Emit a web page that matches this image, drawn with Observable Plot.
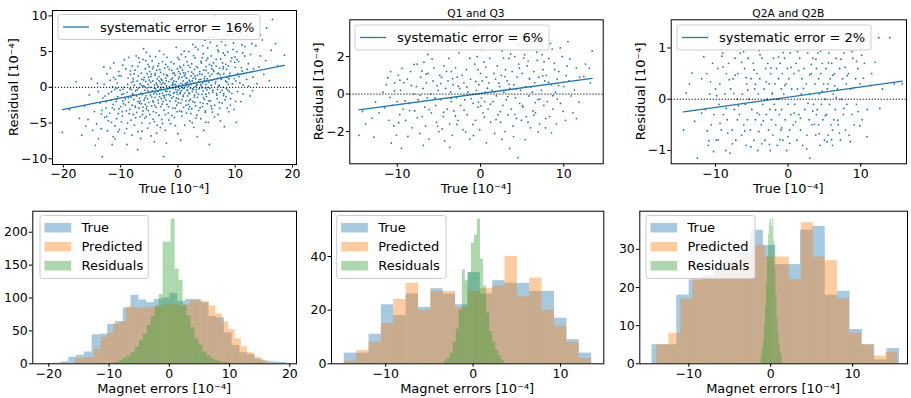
<!DOCTYPE html>
<html>
<head>
<meta charset="utf-8">
<script src="https://cdn.jsdelivr.net/npm/d3@7"></script>
<script src="https://cdn.jsdelivr.net/npm/@observablehq/plot@0.6"></script>
<style>
  html, body { margin: 0; padding: 0; background: #fff; }
  #fig { position: relative; width: 911px; height: 398px; overflow: hidden; font-family: "DejaVu Sans", sans-serif; }
  #fig svg { position: absolute; overflow: visible; }
</style>
</head>
<body>
<div id="fig"></div>
<script>
// ---------- Top row: true magnet error vs. residual, units of 1e-4 ----------
const allPoints = [
  [-20.2,-6.3],[-17.8,0.8],[-16.8,-6.7],[-16.3,-2.6],
  [-15.7,-4.5],[-15.1,1.2],[-14.6,-3.4],[-14.2,-5.1],[-13.9,-0.6],[-13.6,-2.2],[-13.2,-9.7],
  [-13.4,-5.8],[-13.1,-1.5],[-12.9,0.4],[-12.8,-4.2],[-12.6,-2.9],[-12.4,1.9],[-12.3,-6.1],[-12.1,-0.9],[-11.9,-3.6],[-11.8,2.7],
  [-11.7,-1.8],[-11.6,-4.9],[-11.5,-8.0],[-11.4,0.1],[-11.3,-2.4],[-11.2,3.4],[-11.1,-3.1],[-11.0,-5.4],[-11.0,-0.3],[-11.3,-6.9],
  [-10.9,1.1],[-10.8,-2.0],[-10.7,-4.4],[-10.6,0.6],[-10.5,-1.3],[-10.4,-3.7],[-10.3,2.2],[-10.2,-5.9],[-10.1,-0.4],[-10.0,-2.7],
  [-9.9,1.6],[-9.8,-1.0],[-9.7,-4.0],[-9.6,3.1],[-9.5,-2.3],[-9.4,0.0],[-9.3,-6.4],[-9.2,-1.6],[-9.1,2.6],[-9.0,-3.3],
  [-8.9,-0.7],[-8.8,-5.0],[-8.7,1.3],[-8.6,-2.1],[-8.6,4.2],[-8.9,-8.0],[-9.6,-1.9],[-10.3,-3.0],
  [-8.4,-0.2],[-8.4,-3.1],[-8.3,1.8],[-8.2,-1.4],[-8.2,-4.6],[-8.1,0.7],[-8.0,-2.5],[-8.0,3.0],[-7.9,-0.9],[-7.8,-3.8],
  [-7.8,1.2],[-7.7,-1.7],[-7.6,-5.3],[-7.6,0.3],[-7.5,2.4],[-7.4,-2.8],[-7.4,-0.5],[-7.3,4.4],[-7.2,-1.2],[-7.2,-3.5],
  [-7.1,0.9],[-7.0,-2.0],[-7.0,-6.2],[-6.9,1.6],[-6.9,-0.1],[-6.8,-2.9],[-6.7,3.5],[-6.7,-1.5],[-6.6,-4.1],[-6.6,0.5],
  [-6.5,-0.8],[-6.4,2.0],[-6.4,-2.3],[-6.3,-5.0],[-6.3,1.1],[-6.2,-1.0],[-6.1,3.9],[-6.1,-3.3],[-6.0,0.2],[-6.0,5.4],
  [-5.9,-1.8],[-5.9,1.4],[-5.8,-0.4],[-5.8,-4.3],[-5.7,2.6],[-5.7,-2.4],[-5.6,0.8],[-5.6,-1.2],[-5.5,4.9],[-5.5,-3.0],
  [-5.4,-0.1],[-5.4,1.9],[-5.3,-5.7],[-5.3,-1.6],[-5.2,0.4],[-5.2,3.2],[-5.1,-2.1],[-5.0,-0.7],[-5.0,1.0],[-4.9,-3.8],
  [-4.9,2.2],[-4.8,-1.1],[-4.8,0.0],[-4.7,-6.8],[-4.7,1.5],[-4.6,-2.6],[-4.5,3.7],[-4.5,-0.5],[-4.4,-1.9],[-4.4,0.9],
  [-4.3,-3.4],[-4.3,2.9],[-4.2,-0.9],[-4.1,0.3],[-4.1,-4.8],[-4.0,1.7],[-4.0,-1.4],[-3.9,-0.2],[-3.9,4.3],[-3.8,-2.8],
  [-3.8,0.6],[-3.7,-1.0],[-3.7,2.4],[-3.6,-5.3],[-3.6,1.2],
  [-3.5,-0.6],[-3.5,3.0],[-3.4,-2.2],[-3.4,0.1],[-3.3,1.5],[-3.3,-3.9],[-3.2,-1.3],[-3.2,5.1],[-3.1,0.7],[-3.1,-0.3],
  [-3.0,-2.7],[-3.0,2.1],[-2.9,-1.6],[-2.9,0.4],[-2.8,-4.5],[-2.8,1.0],[-2.7,-0.8],[-2.7,3.6],[-2.6,-2.0],[-2.6,0.0],
  [-2.5,-9.7],[-2.5,1.8],[-2.4,-1.2],[-2.4,-3.2],[-2.3,0.5],[-2.3,2.7],[-2.2,-0.5],[-2.2,-6.0],[-2.1,1.3],[-2.1,-1.8],
  [-2.0,-7.8],[-2.0,0.2],[-1.9,4.2],[-1.9,-2.4],[-1.8,-0.2],[-1.8,1.6],[-1.7,-3.6],[-1.6,0.8],[-1.6,-1.0],[-1.5,2.5],
  [-1.4,-0.6],[-1.3,-5.1],[-1.2,1.1],[-1.1,-1.5],[-1.0,0.3],
  [-0.9,-2.9],[-0.9,2.0],[-0.8,-0.1],[-0.8,-1.3],[-0.7,0.9],[-0.7,3.3],[-0.6,-0.7],[-0.6,-4.2],[-0.5,0.4],[-0.5,1.7],
  [-0.4,-1.9],[-0.4,-0.3],[-0.3,5.6],[-0.3,0.8],[-0.2,-2.5],[-0.2,0.1],[-0.1,-1.0],[-0.1,2.6],[0.0,-0.4],[0.0,-6.5],
  [0.1,1.2],[0.1,-1.6],[0.2,0.3],[0.2,3.9],[0.3,-3.3],[0.3,-0.2],[0.4,1.9],[0.4,-0.9],[0.5,0.6],[0.5,-2.2],
  [0.6,4.6],[0.6,-0.5],[0.7,1.4],[0.7,-4.0],[0.8,0.0],[0.8,2.4],[0.9,-1.3],[0.9,0.9],[1.0,-2.8],[1.0,3.1],
  [1.1,-0.1],[1.1,1.6],[1.2,-5.3],[1.2,-0.8],[1.3,0.5],[1.3,2.0],[1.4,-1.9],[1.4,0.2],
  [1.5,-3.6],[1.5,1.3],[1.6,-0.4],[1.6,3.6],[1.7,0.7],[1.7,-1.2],[1.8,2.2],[1.8,-2.4],[1.9,0.2],[1.9,5.0],
  [2.0,-0.9],[2.0,1.0],[2.1,-4.7],[2.1,2.8],[2.2,-0.1],[2.2,-1.7],[2.3,1.6],[2.3,0.4],[2.4,-3.0],[2.4,3.3],
  [2.5,-0.6],[2.5,0.9],[2.6,6.0],[2.6,-2.0],[2.7,1.9],[2.7,-0.3],[2.8,0.6],[2.8,-5.6],[2.9,2.5],[2.9,-1.1],
  [3.0,0.1],[3.0,4.1],[3.1,-2.6],[3.1,1.2],[3.2,-0.7],[3.2,2.9],[3.3,0.4],[3.3,-3.9],[3.4,1.7],[3.4,-1.4],
  [3.5,5.3],[3.6,0.8],[3.7,-0.2],[3.8,2.2],[3.9,-2.1],
  [4.0,1.1],[4.0,-4.4],[4.1,0.2],[4.1,3.4],[4.2,-1.0],[4.2,1.8],[4.3,-2.7],[4.3,0.6],[4.4,4.7],[4.4,-0.5],
  [4.5,2.4],[4.5,-6.0],[4.6,0.9],[4.6,-1.7],[4.7,1.5],[4.7,6.6],[4.8,-0.1],[4.8,-3.3],[4.9,2.9],[4.9,0.4],
  [5.0,-1.3],[5.0,3.8],[5.1,1.2],[5.1,-2.3],[5.2,0.0],[5.2,5.5],[5.3,-4.9],[5.3,2.0],[5.4,0.7],[5.4,-0.8],
  [5.5,-8.0],[5.5,3.2],[5.6,1.6],[5.7,-1.9],[5.8,0.3],[5.8,4.4],[5.9,-3.0],[5.9,2.6],[6.0,1.0],[6.1,-0.4],
  [6.2,7.0],[6.3,2.2],[6.4,-2.5],[6.5,10.0],
  [6.6,0.8],[6.7,3.9],[6.8,-1.1],[6.9,1.9],[7.0,-3.8],[7.1,5.0],[7.2,0.3],[7.3,2.7],[7.4,-0.7],[7.5,1.4],
  [7.6,6.4],[7.7,-2.2],[7.8,3.4],[7.9,0.0],[8.0,1.9],[8.1,-5.5],[8.2,4.5],[8.3,0.9],[8.4,-1.3],[8.5,2.5],
  [8.6,7.3],[8.7,-0.4],[8.8,3.0],[8.9,1.2],[6.8,5.8],[7.4,-4.7],[8.0,-0.9],[8.6,-2.9],[7.1,2.0],[7.9,4.8],
  [6.9,-0.3],[8.3,5.9],[8.8,0.4],
  [9.1,2.0],[9.2,-1.6],[9.4,4.1],[9.5,0.5],[9.7,6.2],[9.8,-3.1],[10.0,2.8],[10.1,0.9],[10.3,5.0],[10.4,-0.6],
  [10.6,3.6],[10.7,1.5],[10.9,7.6],[11.0,-2.0],[11.2,2.3],[11.3,4.8],[9.3,8.2],[10.2,-4.9],[11.4,0.3],[9.9,3.5],
  [11.7,5.7],[12.0,1.1],[12.3,3.3],[12.6,-1.2],[12.9,6.1],[13.2,2.6],[13.5,8.6],[13.8,0.5],
  [14.4,4.4],[15.0,1.8],[15.5,8.3],[16.3,5.2],
  [16.5,9.5],[17.4,3.0],[18.6,4.5],
  [-18.93,-3.12],[-17.21,-4.35],[-15.48,-1.07],[-14.87,-6.02],[-14.06,0.58],[-13.37,-3.71],[-12.71,-1.22],[-12.17,-4.66],
  [-11.83,0.96],[-11.46,-2.87],[-10.97,-7.21],[-10.63,-0.12],[-10.28,1.63],[-9.86,-4.83],[-9.51,-0.93],[-9.17,-2.48],
  [-8.79,0.43],[-8.53,-3.69],[-8.27,2.31],[-8.02,-6.71],[-7.86,-1.02],[-7.63,1.88],[-7.38,-4.27],[-7.11,-0.36],
  [-6.97,2.93],[-6.73,-2.22],[-6.52,-7.16],[-6.34,0.27],[-6.18,-3.82],[-5.96,1.03],[-5.77,-1.51],[-5.61,3.73],
  [-5.43,-2.69],[-5.26,-0.47],[-5.12,1.41],[-4.93,-5.04],[-4.76,0.72],[-4.58,-1.33],[-4.42,2.61],[-4.27,-2.04],
  [-4.13,-0.12],[-3.97,1.94],[-3.82,-3.57],[-3.66,0.37],[-3.49,-1.78],[-3.36,3.32],[-3.21,-0.92],[-3.07,-5.61],
  [-2.93,1.17],[-2.78,-2.36],[-2.62,0.64],[-2.46,4.62],[-2.33,-1.47],[-2.18,-3.81],[-2.04,0.93],[-1.91,-0.58],
  [-1.77,2.87],[-1.63,-2.73],[-1.48,0.08],[-1.32,-1.14],[-1.19,3.52],[-1.04,-3.93],[-0.92,0.61],[-0.77,-0.86],
  [-0.63,1.98],[-0.49,-2.93],[-0.34,0.19],[-0.21,-0.68],[-0.06,4.17],[0.08,-2.18],[0.23,1.47],[0.37,-0.73],
  [0.52,2.73],[0.66,-3.42],[0.81,0.42],[0.94,-1.08],[1.09,5.06],[1.24,1.71],[1.38,-2.52],[1.53,0.57],
  [1.67,-0.41],[1.82,3.07],[1.97,-1.88],[2.12,0.79],[2.26,-3.67],[2.41,2.13],[2.55,-0.22],[2.71,4.43],
  [2.86,-1.37],[3.01,1.56],[3.14,-4.28],[3.29,0.28],[3.44,2.77],[3.58,-0.97],[3.73,1.08],[3.87,-2.86],
  [4.02,3.63],[4.17,-0.07],[4.31,5.81],[4.46,-1.44],[4.61,1.21],[4.76,-3.51],[4.91,2.37],[5.06,-0.33],
  [5.21,4.08],[5.36,-1.91],[5.51,0.93],[5.66,6.27],[5.79,-2.64],[5.94,1.86],[6.09,-0.68],[6.23,3.41],
  [6.38,-4.14],[6.53,0.54],[6.68,2.98],[6.83,-1.57],[6.99,5.22],[7.14,0.14],[7.28,-2.92],[7.44,3.96],
  [7.59,1.13],[7.73,-0.42],[7.89,2.61],[8.04,6.83],[8.21,-1.73],[8.37,3.22],[8.52,0.72],[8.69,4.94],
  [8.86,-3.43],[9.03,1.66],[9.22,3.67],[9.41,-0.84],[9.62,5.31],[9.83,1.22],[10.07,-1.96],[10.31,3.87],
  [10.56,6.96],[10.82,0.61],[11.08,2.76],[11.37,-0.94],[11.66,4.38],[11.98,7.21],[12.34,0.17],[12.71,4.61],
  [13.12,1.42],[13.61,5.83],[14.13,2.86],[14.72,6.63],[15.31,3.74],[15.96,0.94],[17.02,6.12],
  [-16.12,-5.43],[-13.88,-7.18],[-12.44,-4.07],[-11.22,1.38],[-10.46,-6.22],[-9.71,-3.41],[-8.94,-5.77],[-8.12,-0.31],
  [-7.49,-2.63],[-6.84,4.12],[-6.26,-6.14],[-5.52,-4.08],[-4.87,4.36],[-4.33,-4.47],[-3.73,-6.42],[-3.17,2.47],
  [-2.69,-5.06],[-2.14,3.21],[-1.58,-4.59],[-0.97,1.27],[-0.44,-5.37],[0.14,2.21],[0.71,-1.71],[1.33,4.27],
  [1.88,-3.04],[2.49,-4.93],[3.07,5.62],[3.61,-3.26],[4.24,4.14],[4.83,-4.86],[5.43,6.94],[6.02,-3.47],
  [6.61,7.62],[7.21,-2.11],[7.83,8.12],[8.44,-0.17],[9.14,-2.48],[9.76,7.43],[10.41,1.92],[11.17,5.96],
  [12.08,2.54],[13.02,-0.46],[14.38,7.33],[-7.03,-8.73],[-4.11,-7.63],[0.47,-7.41],[3.36,-6.89],[-9.34,3.87],
  [-12.93,2.86],[-14.42,-8.12],
  [-6.61,-1.93],[-5.87,0.11],[-5.18,-3.27],[-4.64,1.84],[-3.94,-0.68],[-3.29,0.91],[-2.57,-1.12],[-1.96,1.74],
  [-1.41,-1.93],[-0.86,0.36],[-0.27,-1.52],[0.31,2.94],[0.88,-0.17],[1.46,1.32],[2.03,-2.71],[2.63,1.26],
  [3.22,-0.34],[3.81,1.87],[4.39,-2.24],[4.97,0.83],[5.58,-0.14],[6.17,2.41],[6.76,-0.88],[7.36,1.78],
  [7.97,-1.16],[8.58,1.41],[-7.81,0.84],[-8.66,-1.47],[-9.58,-0.28],[-10.74,-1.69],[-11.61,-0.62],[-12.52,-2.03],
  [-13.28,-3.22],[-6.07,-2.77],[-5.03,2.88],[-4.04,-2.52],[-2.97,-0.06],[-2.01,-1.03],[-1.06,2.38],[-0.13,-3.41],
  [0.97,2.03],[1.91,-0.73],[2.93,-2.11],[3.96,0.37],[4.88,-0.96],[5.87,3.02],[6.86,1.24],[7.92,2.89],
  [8.97,-0.61],[9.97,4.24]
];

const q13Points = [
  [-14.6,-2.2],[-13.8,-1.6],[-12.8,-2.3],[-12.2,-1.0],
  [-11.7,0.1],[-11.3,0.5],[-11.0,-1.4],[-10.8,1.2],[-10.6,-0.6],
  [-10.4,-1.7],[-10.3,0.6],[-10.1,-2.2],[-10.0,-0.4],[-9.9,1.0],[-9.7,-1.1],[-9.6,0.2],[-9.5,-2.9],[-9.3,-0.8],[-9.2,0.6],
  [-9.0,-1.4],[-8.8,0.8],[-8.6,-0.5],[-8.4,1.2],[-8.2,-1.8],[-8.0,0.0],[-7.9,-0.9],[-7.7,0.4],
  [-7.6,1.6],[-7.5,-0.3],[-7.3,-2.1],[-7.2,0.9],[-7.0,-1.2],[-6.9,0.3],[-6.8,1.7],[-6.7,-0.7],[-6.6,-1.7],[-6.5,0.6],[-6.4,-0.2],[-6.3,1.1],
  [-6.2,-2.4],[-6.0,0.0],[-5.9,-1.0],[-5.7,0.7],[-5.6,1.4],[-5.4,-0.6],[-5.3,-1.5],[-5.1,0.2],[-5.0,-2.0],[-4.9,1.0],
  [-4.8,-0.3],[-4.7,0.9],[-4.5,-1.2],[-4.4,1.5],[-4.3,-2.5],[-4.2,0.3],[-4.0,-0.8],[-3.9,0.7],[-3.8,1.9],[-3.7,-1.6],[-3.6,0.1],[-3.5,1.2],[-3.5,-0.4],
  [-3.4,-2.2],[-3.3,0.5],[-3.2,-0.9],[-3.0,1.4],[-2.9,-0.2],[-2.8,0.9],[-2.7,-1.4],[-2.6,2.2],[-2.5,0.3],[-2.4,-0.6],[-2.2,1.0],[-2.1,-1.9],
  [-2.0,0.6],[-1.9,-0.3],[-1.7,1.3],[-1.6,-1.1],[-1.5,0.1],[-1.3,-2.4],[-1.2,0.8],[-1.0,3.6],[-0.9,-0.5],[-0.7,1.6],
  [-0.6,-1.4],[-0.5,0.2],[-0.4,2.0],[-0.3,-0.7],[-0.2,0.5],[-0.1,-1.9],[0.0,1.1],[0.1,-0.2],[0.2,0.7],[0.3,-1.0],[0.4,1.7],[0.5,-0.4],[0.6,0.1],[0.7,-2.6],[0.7,0.9],[-0.3,1.3],
  [0.9,-0.8],[1.0,0.6],[1.1,1.9],[1.2,-1.5],[1.4,0.2],[1.5,-0.4],[1.6,1.1],[1.7,-2.1],[1.8,0.8],[1.9,-0.1],[2.0,1.5],[2.1,-1.1],
  [2.3,0.4],[2.4,-1.5],[2.5,1.0],[2.6,2.3],[2.7,-0.6],[2.8,0.1],[2.9,-2.0],[3.0,1.3],[3.1,-0.3],[3.2,0.7],[3.3,-1.1],[3.4,1.9],[3.5,-2.9],[3.5,0.3],
  [3.7,-0.8],[3.8,1.2],[3.9,-1.7],[4.0,0.5],[4.1,2.0],[4.2,-0.2],[4.3,-1.3],[4.4,0.9],[4.5,-3.4],[4.6,1.6],[4.7,-0.5],[4.8,0.2],[4.9,-1.4],[5.0,1.1],
  [5.1,-0.7],[5.3,2.1],[5.4,0.4],[5.5,-1.2],[5.6,1.5],[5.8,-0.1],[5.9,0.8],[6.0,-1.8],[6.1,2.4],[6.2,0.1],[6.3,-0.9],[6.4,1.2],[5.7,-1.5],
  [6.5,0.6],[6.6,-1.0],[6.8,1.8],[6.9,-0.3],[7.0,0.9],[7.1,-1.6],[7.2,2.7],[7.3,0.2],[7.5,1.3],[7.6,-0.6],[7.7,0.7],[7.8,-1.8],[7.4,2.1],
  [7.9,1.0],[8.0,-0.4],[8.2,1.9],[8.3,-1.2],[8.5,0.5],[8.6,2.4],[8.7,-0.8],[8.9,1.3],[9.0,0.1],[9.1,-1.6],[9.2,0.8],[8.4,2.7],
  [9.4,1.2],[9.6,-0.5],[9.8,2.0],[10.0,0.4],[10.2,-1.4],[10.4,1.5],[10.5,2.8],[10.6,0.7],
  [10.9,-0.1],[11.1,-1.0],[11.5,1.4],[11.9,0.9],
  [12.6,1.6],[13.4,2.3],[13.2,0.6],
  [-14.17,-0.93],[-13.03,-1.28],[-11.52,-0.73],[-11.14,0.87],[-10.72,-2.61],[-10.36,0.17],[-9.83,-1.53],[-9.42,1.37],
  [-9.07,-0.37],[-8.73,-2.26],[-8.31,0.46],[-7.97,1.58],[-7.61,-1.27],[-7.24,-0.07],[-6.87,-2.74],[-6.53,1.06],
  [-6.18,-0.83],[-5.82,1.87],[-5.47,-0.21],[-5.16,-1.72],[-4.79,0.56],[-4.42,-0.97],[-4.08,1.21],[-3.71,-2.84],
  [-3.36,0.82],[-3.02,-1.17],[-2.67,0.42],[-2.33,2.62],[-1.98,-0.86],[-1.64,0.38],[-1.29,1.91],[-0.93,-1.62],
  [-0.58,0.67],[-0.24,-0.44],[0.12,2.38],[0.46,-1.23],[0.82,0.31],[1.17,-0.54],[1.52,2.71],[1.86,-1.36],
  [2.21,0.58],[2.57,-2.42],[2.92,0.93],[3.26,-0.14],[3.62,2.14],[3.96,-2.27],[4.31,0.27],[4.67,1.38],
  [5.02,-0.62],[5.37,-2.43],[5.71,1.76],[6.07,0.38],[6.41,-1.12],[6.77,2.23],[7.12,-0.27],[7.47,0.97],
  [7.81,-1.31],[8.16,0.63],[8.52,-2.07],[8.86,1.64],[9.21,-0.27],[9.57,2.46],[9.92,-0.92],[10.28,0.98],
  [10.73,1.87],[11.27,0.21],[11.84,-0.43],[12.41,0.93],[13.07,1.37],
  [-12.61,-0.42],[-10.88,-0.18],[-8.52,-0.88],[-6.35,2.11],[-4.61,-1.86],[-2.84,-1.62],[-1.13,-0.24],[0.63,1.44],
  [2.38,-0.93],[4.13,-1.08],[5.86,0.84],[7.63,1.72],[9.37,0.46],[-7.04,1.23],[-5.23,0.44],[-3.53,-0.22],
  [-1.77,-2.03],[0.04,-0.63],[1.73,0.12],[3.44,0.52],[5.19,1.92],[6.93,-2.02],[8.67,-0.09],[-9.68,0.74],
  [-3.87,2.51],[2.76,1.92],[4.49,2.63],[6.58,-0.46],[-0.86,-2.21],[11.52,-1.31]
];

const q2Points = [
  [-14.4,-0.6],[-13.6,0.3],[-12.5,-1.15],[-11.9,0.4],
  [-11.4,-0.2],[-11.2,0.5],[-11.0,-0.9],[-10.8,0.1],[-10.6,-0.5],[-10.4,0.7],[-10.2,-0.3],[-10.0,0.2],
  [-9.9,-0.8],[-9.7,0.6],[-9.5,-0.1],[-9.4,0.3],[-9.2,-0.6],[-9.0,0.9],[-8.9,-0.3],[-8.7,0.1],[-8.6,-1.0],[-8.5,0.5],
  [-8.4,-0.4],[-8.2,0.7],[-8.0,-1.05],[-7.9,0.2],[-7.7,-0.6],[-7.6,0.4],[-7.4,-0.2],[-7.3,0.8],[-7.2,-0.8],[-7.0,0.0],[-7.0,-0.4],
  [-6.9,0.5],[-6.7,-0.3],[-6.6,0.9],[-6.4,-0.7],[-6.3,0.1],[-6.1,-0.5],[-6.0,0.6],[-5.9,-0.1],[-5.8,-0.9],[-5.7,0.3],[-5.6,-0.4],[-5.5,0.8],
  [-5.4,0.0],[-5.2,-0.6],[-5.1,0.4],[-5.0,-0.2],[-4.8,0.7],[-4.7,-0.8],[-4.6,0.2],[-4.5,-0.4],[-4.3,0.5],[-4.2,-1.0],[-4.1,0.1],[-4.0,0.95],[-3.95,-0.3],
  [-3.9,0.4],[-3.7,-0.5],[-3.6,0.8],[-3.5,-0.1],[-3.3,0.2],[-3.2,-0.8],[-3.1,0.6],[-3.0,-0.3],[-2.9,0.0],[-2.8,0.7],[-2.7,-0.6],[-2.6,0.3],[-2.5,-0.2],[-2.45,-1.0],
  [-2.4,0.5],[-2.3,-0.4],[-2.2,0.1],[-2.1,-0.7],[-2.0,0.8],[-1.9,-0.1],[-1.8,0.3],[-1.7,-0.5],[-1.6,0.6],[-1.5,-0.9],[-1.4,0.0],[-1.3,0.4],[-1.2,-0.3],[-1.1,0.7],[-1.0,-0.6],[-0.95,0.2],
  [-0.9,-0.2],[-0.8,0.5],[-0.7,-0.8],[-0.6,0.1],[-0.5,0.8],[-0.4,-0.4],[-0.3,0.3],[-0.2,-1.0],[-0.1,0.6],[0.0,-0.1],[0.1,0.4],[0.2,-0.6],[0.3,0.9],[0.4,-0.3],[0.5,0.2],
  [0.7,-0.5],[0.8,0.5],[0.9,-0.1],[1.1,0.7],[1.2,-0.8],[1.3,0.2],[1.5,-0.3],[1.6,0.8],[1.7,-0.6],[1.8,0.1],[1.9,0.4],[2.0,-0.9],
  [2.2,0.6],[2.3,-0.2],[2.5,0.3],[2.6,-0.7],[2.7,0.9],[2.9,-0.4],[3.0,-1.15],[3.0,0.1],[3.2,0.5],[3.3,-0.5],[3.4,0.8],[3.5,-0.1],
  [3.7,0.3],[3.8,-0.7],[3.9,0.6],[4.0,-0.2],[4.1,0.9],[4.2,-0.5],[4.3,0.1],[4.4,-0.9],[4.5,0.5],[4.6,-0.1],[4.7,0.7],[4.8,-0.4],[4.9,0.3],[5.0,-0.8],[5.1,0.0],[4.2,0.4],[3.9,-0.3],
  [5.2,0.6],[5.3,-0.3],[5.4,0.2],[5.5,-0.7],[5.6,0.9],[5.7,-0.1],[5.8,0.4],[5.9,-0.5],[6.0,0.7],[6.1,-0.9],[6.2,0.1],[6.3,-0.4],[6.4,0.5],[6.5,-0.2],[6.6,0.8],[5.5,0.3],[6.1,-0.6],
  [6.8,0.2],[6.9,-0.5],[7.1,0.6],[7.2,-0.8],[7.3,0.0],[7.5,0.4],[7.6,-0.3],[7.7,0.9],[7.9,-0.6],[8.0,0.3],[8.1,-0.1],
  [8.3,0.5],[8.4,-0.7],[8.6,0.2],[8.8,-0.3],[8.9,0.8],[9.1,-0.5],[9.3,0.4],[9.4,-0.1],[9.6,0.6],
  [9.9,0.3],[10.2,-0.4],[10.5,0.7],[10.9,-0.2],
  [11.5,0.5],[12.5,1.2],[13.0,0.2],[14.0,1.2],[14.6,0.3],[15.7,0.3],
  [-14.02,0.12],[-12.87,-0.43],[-11.61,0.83],[-11.13,-0.62],[-10.69,0.34],[-10.27,-1.02],[-9.83,0.07],[-9.38,-0.47],
  [-8.96,0.63],[-8.53,-0.18],[-8.12,0.38],[-7.68,-0.87],[-7.27,0.47],[-6.83,-0.13],[-6.42,0.72],[-5.98,-0.62],
  [-5.57,0.18],[-5.13,-0.93],[-4.72,0.57],[-4.28,-0.27],[-3.87,0.87],[-3.43,-0.42],[-3.01,0.34],[-2.58,-0.88],
  [-2.16,0.12],[-1.73,-0.21],[-1.31,0.82],[-0.88,-0.56],[-0.46,0.27],[-0.03,-0.73],[0.41,0.62],[0.84,-0.27],
  [1.27,0.93],[1.69,-0.37],[2.12,0.21],[2.56,-0.97],[2.98,0.48],[3.41,-0.23],[3.83,0.78],[4.27,-0.67],
  [4.69,0.16],[5.12,-0.32],[5.56,0.71],[5.98,-0.79],[6.41,0.26],[6.83,-0.41],[7.27,0.78],[7.69,-0.18],
  [8.13,0.46],[8.56,-0.83],[8.98,0.22],[9.43,0.74],[9.88,-0.52],[10.37,0.41],[10.84,-0.73],[11.37,0.27],
  [11.98,0.72],[12.63,-0.18],
  [-13.24,0.51],[-10.92,-0.81],[-9.11,0.84],[-7.47,0.11],[-5.77,0.42],[-4.03,-0.63],[-2.36,0.61],[-0.67,0.91],
  [1.03,-0.44],[2.73,-0.08],[4.43,0.94],[6.17,0.47],[7.86,0.62],[9.63,-0.24],[-8.31,-0.66],[-6.13,0.93],
  [-3.62,-0.87],[-1.12,-0.79],[1.48,0.56],[3.63,-0.49],[5.37,-0.83],[7.06,-0.66],[8.82,0.93],[-9.64,-0.79],
  [-4.52,0.29],[0.22,-0.86],[3.18,0.68],[6.62,0.03],[10.12,0.86],[-11.91,-0.27]
];

// Fitted systematic error (slope of residual vs. true, in %) and fit offsets
const systematicErrorPct = [16, 6, 2];
const fitIntercept = [0.1, 0.03, 0.04];
const panelTitles = ["", "Q1 and Q3", "Q2A and Q2B"];

// ---------- Bottom row: histograms (first bin edge, bin width, counts) ----------
const allTrueBins = [-20.54, 1.29];
const allTrueCounts = [0, 1, 3, 10, 13, 18, 44, 45, 60, 64, 85, 104, 97, 93, 98, 100, 107, 95, 98, 98, 93, 72, 70, 47, 28, 17, 14, 7, 4, 3, 2];
const allPredBins = [-15.6, 1.06];
const allPredCounts = [8, 9, 10, 22, 40, 46, 60, 64, 86, 85, 84, 86, 86, 88, 90, 90, 88, 90, 96, 96, 94, 88, 76, 64, 52, 38, 26, 17, 10, 5];
const allResidBins = [-9.6, 0.66];
const allResidCounts = [1, 2, 5, 8, 12, 17, 25, 35, 45, 58, 72, 88, 105, 185, 185, 220, 144, 127, 88, 73, 55, 38, 28, 18, 12, 8, 5, 3, 2, 1];

const q13TrueBins = [-14.74, 1.415];
const q13TrueCounts = [4, 4, 11, 22, 18, 26, 21, 28, 26, 22, 34, 26, 31, 30, 30, 27, 27, 17, 9, 4];
const q13PredBins = [-14.74, 1.415];
const q13PredCounts = [1, 5, 8, 15, 24, 30, 20, 27, 27, 21, 27, 28, 29, 40, 25, 32, 20, 14, 8, 2];
const q13ResidBins = [-3.31, 0.3465];
const q13ResidCounts = [1, 2, 4, 8, 13, 20, 35, 31, 34, 45, 48, 54, 39, 29, 19, 12, 8, 5, 3, 1];

const q2TrueBins = [-14.48, 1.51];
const q2TrueCounts = [5, 5, 18, 22, 23, 25, 27, 29, 35, 31, 26, 26, 35, 36, 18, 19, 9, 5, 1, 4];
const q2PredBins = [-13.9, 1.47];
const q2PredCounts = [5, 8, 17, 22, 23, 24, 26, 28, 31, 28, 28, 22, 37, 28, 27, 17, 8, 5, 2, 3];
const q2ResidBins = [-1.15, 0.1275];
const q2ResidCounts = [2, 4, 6, 10, 15, 21, 28, 34, 37, 38, 36, 38, 32, 25, 18, 12, 8, 5, 3, 2];

const histLabels = ["True", "Predicted", "Residuals"];

// ---------- drawing ----------
const C_BLUE = "#1f77b4", C_ORANGE = "#ff7f0e", C_GREEN = "#2ca02c";
const fig = document.getElementById("fig");
const minus = d => (d < 0 ? "\u2212" : "") + Math.abs(d);
const plotStyle = "font-family: 'DejaVu Sans', sans-serif; font-size: 12.5px; color: black; background: transparent; overflow: visible;";
const tickOpts = {tickSize: 3.5, tickPadding: 1.5, label: null, tickFormat: minus, fontSize: 12.5, fontFamily: "DejaVu Sans"};

function mount(svg, left, top) {
  svg.style.left = left + "px";
  svg.style.top = top + "px";
  fig.appendChild(svg);
  return d3.select(svg);
}

function axisText(sel, x, y, text, rotate) {
  const t = sel.append("text")
    .attr("text-anchor", "middle")
    .attr("font-size", "13px")
    .attr("font-family", "DejaVu Sans")
    .attr("fill", "black")
    .text(text);
  if (rotate) t.attr("transform", `translate(${x},${y}) rotate(-90)`).attr("dy", "0.35em");
  else t.attr("x", x).attr("y", y);
}

function legendBox(sel, x, y, w, h) {
  return sel.append("rect").attr("x", x).attr("y", y).attr("width", w).attr("height", h)
    .attr("rx", 2.5).attr("fill", "white").attr("fill-opacity", 0.8)
    .attr("stroke", "#cccccc").attr("stroke-width", 1);
}

function legendText(sel, x, y, text) {
  sel.append("text").attr("x", x).attr("y", y).attr("dy", "0.36em")
    .attr("text-anchor", "start").attr("font-size", "13px").attr("font-family", "DejaVu Sans")
    .attr("fill", "black").text(text);
}

const topLayout = [
  {left: 0, width: 300, ml: 52, mr: 4, mt: 10, mb: 36, xDomain: [-21.9, 20.7], yDomain: [-10.8, 10.75],
   xTicks: [-20, -10, 0, 10, 20], yTicks: [-10, -5, 0, 5, 10], lx: 58, ly: 14.5, lw: 202, yLabelX: 13},
  {left: 300, width: 310, ml: 49.3, mr: 7.3, mt: 19.3, mb: 36.7, xDomain: [-15.7, 14.73], yDomain: [-3.72, 3.96],
   xTicks: [-10, 0, 10], yTicks: [-2, 0, 2], lx: 55, ly: 25, lw: 194, yLabelX: 18.3},
  {left: 600, width: 311, ml: 70.7, mr: 5, mt: 19.3, mb: 36.7, xDomain: [-16.1, 16.3], yDomain: [-1.26, 1.55],
   xTicks: [-10, 0, 10], yTicks: [-1, 0, 1], lx: 77, ly: 25, lw: 194, yLabelX: 40}
];
const topPoints = [allPoints, q13Points, q2Points];

topLayout.forEach((L, i) => {
  const pts = topPoints[i].map(([x, y]) => ({x, y}));
  const slope = systematicErrorPct[i] / 100;
  const fit = d3.extent(pts, d => d.x).map(x => ({x, y: slope * x + fitIntercept[i]}));
  const H = 200;
  const svg = Plot.plot({
    width: L.width, height: H,
    marginLeft: L.ml, marginRight: L.mr, marginTop: L.mt, marginBottom: L.mb,
    style: plotStyle,
    x: {domain: L.xDomain, label: null},
    y: {domain: L.yDomain, label: null},
    marks: [
      Plot.dot(pts, {x: "x", y: "y", r: 0.9, fill: C_BLUE}),
      Plot.line(fit, {x: "x", y: "y", stroke: C_BLUE, strokeWidth: 1.3}),
      Plot.ruleY([0], {stroke: "black", strokeWidth: 1, strokeDasharray: "1.2,1.8"}),
      Plot.axisX({...tickOpts, ticks: L.xTicks}),
      Plot.axisY({...tickOpts, ticks: L.yTicks}),
      Plot.frame({stroke: "black", strokeWidth: 1})
    ]
  });
  const sel = mount(svg, L.left, 0);
  const frameCx = (L.ml + L.width - L.mr) / 2;
  const frameCy = (L.mt + H - L.mb) / 2;
  axisText(sel, frameCx, 192.5, "True [10\u207B\u2074]");
  axisText(sel, L.yLabelX, frameCy, "Residual [10\u207B\u2074]", true);
  if (panelTitles[i]) {
    sel.append("text").attr("x", frameCx).attr("y", 16.5).attr("text-anchor", "middle")
      .attr("font-size", "10.7px").attr("font-family", "DejaVu Sans").attr("fill", "black").text(panelTitles[i]);
  }
  const g = sel.append("g");
  legendBox(g, L.lx, L.ly, L.lw, 25);
  const cy = L.ly + 12.5;
  g.append("line").attr("x1", L.lx + 5).attr("x2", L.lx + 31).attr("y1", cy).attr("y2", cy)
    .attr("stroke", C_BLUE).attr("stroke-width", 1.3);
  legendText(g, L.lx + 42, cy, `systematic error = ${systematicErrorPct[i]}%`);
});

const bottomLayout = [
  {left: 0, width: 300, ml: 32.3, mr: 4, xDomain: [-22.65, 21.1], yDomain: [0, 232],
   xTicks: [-20, -10, 0, 10, 20], yTicks: [0, 50, 100, 150, 200], lx: 40, lw: 108.3},
  {left: 300, width: 310, ml: 31, mr: 6.7, xDomain: [-16.2, 14.95], yDomain: [0, 56.9],
   xTicks: [-10, 0, 10], yTicks: [0, 20, 40], lx: 36.7, lw: 109.3},
  {left: 600, width: 311, ml: 39.3, mr: 4, xDomain: [-15.98, 16.7], yDomain: [0, 40],
   xTicks: [-10, 0, 10], yTicks: [0, 10, 20, 30], lx: 46, lw: 109}
];
const bottomSeries = [
  [[allTrueBins, allTrueCounts], [allPredBins, allPredCounts], [allResidBins, allResidCounts]],
  [[q13TrueBins, q13TrueCounts], [q13PredBins, q13PredCounts], [q13ResidBins, q13ResidCounts]],
  [[q2TrueBins, q2TrueCounts], [q2PredBins, q2PredCounts], [q2ResidBins, q2ResidCounts]]
];
const histColors = [C_BLUE, C_ORANGE, C_GREEN];

function bins([start, width], counts) {
  return counts.map((c, i) => ({x1: start + i * width, x2: start + (i + 1) * width, count: c}));
}

bottomLayout.forEach((L, i) => {
  const H = 198, mt = 10.7, mb = 34.7;
  const svg = Plot.plot({
    width: L.width, height: H,
    marginLeft: L.ml, marginRight: L.mr, marginTop: mt, marginBottom: mb,
    style: plotStyle,
    x: {domain: L.xDomain, label: null},
    y: {domain: L.yDomain, label: null},
    marks: [
      ...bottomSeries[i].map(([b, c], k) =>
        Plot.rect(bins(b, c), {x1: "x1", x2: "x2", y1: 0, y2: "count", fill: histColors[k], fillOpacity: 0.4})),
      Plot.axisX({...tickOpts, ticks: L.xTicks}),
      Plot.axisY({...tickOpts, ticks: L.yTicks}),
      Plot.frame({stroke: "black", strokeWidth: 1})
    ]
  });
  const sel = mount(svg, L.left, 200);
  axisText(sel, (L.ml + L.width - L.mr) / 2, 193, "Magnet errors [10\u207B\u2074]");
  const g = sel.append("g");
  const ly = 15.5;
  legendBox(g, L.lx, ly, L.lw, 63);
  histLabels.forEach((name, k) => {
    const cy = ly + 12.2 + 19 * k;
    g.append("rect").attr("x", L.lx + 4.5).attr("y", cy - 4.75).attr("width", 26.7).attr("height", 9.5)
      .attr("fill", histColors[k]).attr("fill-opacity", 0.4);
    legendText(g, L.lx + 41.5, cy, name);
  });
});
</script>
</body>
</html>
